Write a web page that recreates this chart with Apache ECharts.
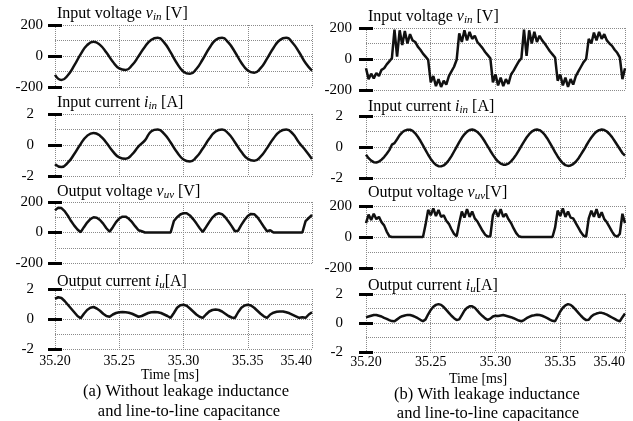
<!DOCTYPE html>
<html><head><meta charset="utf-8">
<script src="https://cdn.jsdelivr.net/npm/echarts@6/dist/echarts.min.js"></script>
<style>html,body{margin:0;padding:0;background:#fff}#c{width:633px;height:421px}</style>
</head><body><div id="c"></div>
<script>
// ---------------- data ----------------
const tStart = 35.20;
const tEnd = 35.40;
const xTickStep = 0.05;
const voltTicks = [-200, 0, 200];
const currTicks = [-2, 0, 2];

// (a) without leakage inductance — step 0.005 ms
const leftVin = [-122,-155,-124,-61,12,70,92,72,22,-37,-80,-90,-59,-2,60,105,117,86,23,-48,-101,-115,-84,-21,50,103,117,86,26,-43,-94,-108,-78,-17,52,103,117,84,24,-45,-95];
const leftIin = [-1.24,-1.42,-1.14,-0.58,0.07,0.59,0.78,0.6,0.14,-0.41,-0.8,-0.89,-0.6,-0.09,0.3,0.89,1.0,0.72,0.16,-0.47,-0.94,-1.07,-0.79,-0.23,0.4,0.87,1.0,0.73,0.18,-0.44,-0.89,-1.02,-0.75,-0.2,0.42,0.87,1.0,0.73,0.15,-0.35,-0.9];
// step 0.0025 ms
const leftVuv = [145,163,160,140,110,75,45,20,2,35,65,88,100,97,82,58,28,5,35,68,92,104,104,90,68,40,15,8,0,0,0,0,0,0,0,0,0,75,100,118,127,126,112,88,60,30,3,35,68,98,118,126,120,100,72,42,8,12,50,82,108,122,120,100,70,38,8,15,0,0,0,0,0,0,0,0,0,0,75,95,115];
const leftIu = [1.35,1.45,1.4,1.2,0.95,0.7,0.45,0.2,0.05,0.35,0.6,0.75,0.8,0.7,0.55,0.35,0.2,0.15,0.3,0.4,0.45,0.47,0.45,0.42,0.35,0.25,0.15,0.2,0.3,0.4,0.45,0.47,0.45,0.4,0.3,0.2,0.08,0.4,0.75,0.92,0.95,0.88,0.7,0.5,0.3,0.15,0.07,0.3,0.5,0.6,0.63,0.6,0.5,0.35,0.2,0.1,0.07,0.45,0.75,0.9,0.95,0.9,0.75,0.55,0.35,0.18,0.07,0.3,0.42,0.48,0.5,0.5,0.45,0.38,0.28,0.18,0.08,0.12,0.08,0.3,0.45];

// (b) with leakage inductance — step 0.002 ms
const rightVin = [-60,-130,-95,-125,-90,-110,-70,-60,-35,-15,5,190,15,185,90,180,100,160,120,110,80,60,35,15,-5,-150,-110,-175,-130,-180,-140,-165,-110,-80,-50,-5,165,110,185,120,175,130,150,110,90,70,45,25,5,-150,-100,-170,-120,-175,-130,-160,-100,-75,-45,-15,5,190,20,185,100,175,110,150,120,100,75,50,30,10,-140,-100,-170,-120,-180,-130,-165,-110,-80,-50,-20,0,130,100,170,120,175,130,160,120,100,85,60,40,10,-130,-60];
const rightIin = [-0.5,-0.72,-0.88,-0.98,-1.0,-0.94,-0.82,-0.65,-0.44,-0.2,0.15,0.25,0.5,0.77,0.95,1.06,1.12,1.12,1.04,0.88,0.66,0.4,0.1,-0.2,-0.5,-0.77,-0.99,-1.15,-1.24,-1.25,-1.19,-1.05,-0.84,-0.59,-0.29,0.01,0.31,0.59,0.82,0.99,1.1,1.13,1.08,0.97,0.8,0.58,0.32,0.04,-0.24,-0.51,-0.75,-0.94,-1.07,-1.14,-1.14,-1.07,-0.93,-0.73,-0.49,-0.22,0.07,0.35,0.61,0.83,0.99,1.1,1.13,1.09,0.97,0.79,0.55,0.27,-0.03,-0.33,-0.61,-0.85,-1.05,-1.17,-1.22,-1.19,-1.1,-0.95,-0.74,-0.48,-0.21,0.08,0.36,0.61,0.83,0.99,1.09,1.13,1.1,1.0,0.84,0.64,0.39,0.13,-0.13,-0.39,-0.55];
const rightVuv = [90,145,110,150,115,130,95,75,35,5,0,0,0,0,0,0,0,0,0,0,0,0,0,80,175,140,185,135,175,130,140,105,85,50,20,5,90,165,125,180,130,165,120,100,70,40,15,3,5,140,175,130,180,130,150,115,90,55,25,5,0,0,0,0,0,0,0,0,0,0,0,0,0,60,170,135,185,130,165,125,120,90,60,30,8,3,120,170,130,180,125,160,115,95,65,35,10,3,20,150,90];
const rightIu = [0.4,0.45,0.5,0.55,0.55,0.5,0.45,0.35,0.28,0.2,0.13,0.12,0.25,0.38,0.47,0.52,0.56,0.55,0.5,0.42,0.33,0.22,0.12,0.25,0.6,0.9,1.12,1.25,1.3,1.25,1.1,0.9,0.7,0.5,0.33,0.2,0.25,0.55,0.85,1.05,1.15,1.15,1.05,0.85,0.65,0.48,0.32,0.22,0.3,0.45,0.5,0.48,0.52,0.55,0.5,0.45,0.4,0.33,0.25,0.17,0.12,0.2,0.33,0.42,0.5,0.53,0.57,0.55,0.5,0.42,0.33,0.23,0.15,0.12,0.45,0.8,1.05,1.22,1.3,1.25,1.1,0.9,0.7,0.5,0.32,0.2,0.22,0.45,0.58,0.65,0.7,0.7,0.65,0.58,0.48,0.38,0.28,0.18,0.12,0.4,0.65];

// ---------------- layout ----------------
const FONT = '"Liberation Serif", "Times New Roman", serif';
const cols = [{left: 55, width: 257}, {left: 366, width: 259}];
const panels = [
  {col:0, top:25,  h:62, kind:'V', vals:leftVin,  step:0.005,  smooth:true,  title:'Input voltage {i|v}{s|in} [V]',   ty:13.5},
  {col:0, top:114, h:62, kind:'I', vals:leftIin,  step:0.005,  smooth:true,  title:'Input current {i|i}{s|in} [A]',   ty:103},
  {col:0, top:202, h:61, kind:'V', vals:leftVuv,  step:0.0025, smooth:false, title:'Output voltage {i|v}{s|uv} [V]',  ty:192},
  {col:0, top:289, h:60, kind:'I', vals:leftIu,   step:0.0025, smooth:false, title:'Output current {i|i}{s|u}[A]',    ty:281.5, xLabels:true, xMargin:5},
  {col:1, top:28,  h:62, kind:'V', vals:rightVin, step:0.002,  smooth:false, title:'Input voltage {i|v}{s|in} [V]',   ty:16.5},
  {col:1, top:116, h:62, kind:'I', vals:rightIin, step:0.002,  smooth:false, title:'Input current {i|i}{s|in} [A]',   ty:107},
  {col:1, top:206, h:62, kind:'V', vals:rightVuv, step:0.002,  smooth:false, title:'Output voltage {i|v}{s|uv}[V]',   ty:193},
  {col:1, top:294, h:58, kind:'I', vals:rightIu,  step:0.002,  smooth:false, title:'Output current {i|i}{s|u}[A]',    ty:285.5, xLabels:true, xMargin:3}
];
const labelMargins = [{V:19, I:28}, {V:21, I:30}];

const grid = [], xAxis = [], yAxis = [], series = [], title = [];
const dotted = {type:'dotted', color:'#8a8a8a', width:1};

panels.forEach((p, i) => {
  const c = cols[p.col];
  grid.push({left:c.left, top:p.top, width:c.width, height:p.h, show:false, outerBoundsMode:'none', containLabel:false});
  const ticks = p.kind === 'V' ? voltTicks : currTicks;
  const mn = ticks[0], mx = ticks[ticks.length-1];
  const full = ticks[1] - ticks[0];
  xAxis.push({
    type:'value', gridIndex:i, min:tStart, max:tEnd, interval:xTickStep,
    axisLine:{show:false, onZero:false}, axisTick:{show:false},
    splitLine:{show:true, showMinLine:true, showMaxLine:true, lineStyle:dotted},
    axisLabel:{show:!!p.xLabels, margin:p.xMargin||5, fontFamily:FONT, fontSize:14, color:'#000',
      formatter:v => v.toFixed(2), alignMaxLabel:'right', showMinLabel:true, showMaxLabel:true}
  });
  yAxis.push({
    type:'value', gridIndex:i, position:'left', min:mn, max:mx, interval:full/2,
    axisLine:{show:false}, axisTick:{show:false}, axisLabel:{show:false},
    splitLine:{show:true, showMinLine:true, showMaxLine:true, lineStyle:dotted}
  });
  yAxis.push({
    type:'value', gridIndex:i, position:'left', offset:-7, min:mn, max:mx, interval:full,
    axisLine:{show:false, onZero:false},
    axisTick:{show:true, inside:false, length:14, lineStyle:{color:'#000', width:3}},
    splitLine:{show:false},
    axisLabel:{show:true, margin:labelMargins[p.col][p.kind], fontFamily:FONT, fontSize:15, color:'#000',
      showMinLabel:true, showMaxLabel:true}
  });
  const data = p.vals.map((v, k) => [+(tStart + k * p.step).toFixed(4), v]);
  series.push({
    type:'line', xAxisIndex:i, yAxisIndex:2*i, data:data, smooth:p.smooth,
    showSymbol:false, symbol:'none', clip:true,
    lineStyle:{color:'#111', width:2.5}, animation:false, silent:true
  });
  title.push({
    text:p.title, left:c.left + 2, top:p.ty - 9, padding:0,
    textStyle:{fontFamily:FONT, fontSize:16, fontWeight:'normal', color:'#000', lineHeight:18,
      rich:{
        i:{fontFamily:FONT, fontSize:16, fontStyle:'italic', color:'#000', lineHeight:18},
        s:{fontFamily:FONT, fontSize:11, fontStyle:'italic', color:'#000', lineHeight:10, verticalAlign:'bottom'}
      }}
  });
});

function txt(s, x, y, size) {
  return {type:'text', x:x, y:y, silent:true,
    style:{text:s, font:size + 'px ' + FONT, fontFamily:FONT, fontSize:size, fill:'#000',
      textAlign:'center', textVerticalAlign:'middle', align:'center', verticalAlign:'middle'}};
}
const graphic = [
  txt('Time [ms]', 170, 375, 14),
  txt('(a) Without leakage inductance', 186, 392, 16.5),
  txt('and line-to-line capacitance', 189, 412, 16.5),
  txt('Time [ms]', 478, 379, 14),
  txt('(b) With leakage inductance', 487, 395, 16.5),
  txt('and line-to-line capacitance', 488, 414, 16.5)
];

const chart = echarts.init(document.getElementById('c'), null, {renderer:'canvas'});
chart.setOption({
  backgroundColor:'#fff', animation:false,
  title, grid, xAxis, yAxis, series, graphic
});
</script>
</body></html>
